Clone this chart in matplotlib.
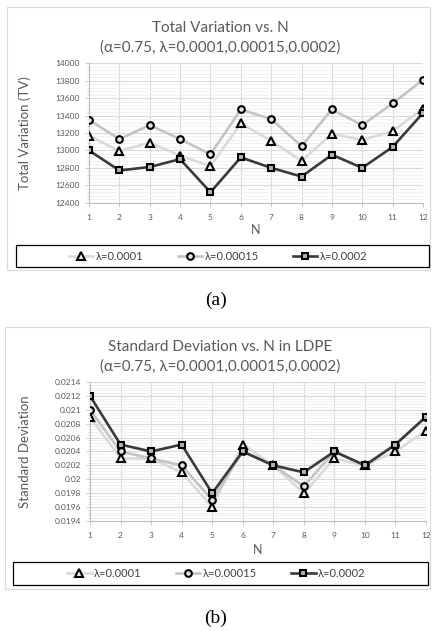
import numpy as np
import matplotlib
matplotlib.use("Agg")
import matplotlib.pyplot as plt
from matplotlib.lines import Line2D
from matplotlib.patches import Rectangle
from matplotlib.ticker import MultipleLocator

plt.rcParams['font.family'] = ['Lato', 'DejaVu Sans']

N = np.arange(1, 13)

# total variation, panel (a)
tv_1 = [13170, 12990, 13090, 12940, 12820, 13310, 13110, 12880, 13190, 13120, 13220, 13480]
tv_15 = [13350, 13130, 13290, 13130, 12955, 13470, 13360, 13050, 13470, 13290, 13540, 13810]
tv_2 = [13000, 12770, 12810, 12900, 12520, 12920, 12800, 12700, 12950, 12800, 13040, 13430]

# standard deviation, panel (b)
sd_1 = [0.0209, 0.0203, 0.0203, 0.0201, 0.0196, 0.0205, 0.0202, 0.0198, 0.0203, 0.0202, 0.0204, 0.0207]
sd_15 = [0.0210, 0.0204, 0.0203, 0.0202, 0.0197, 0.0204, 0.0202, 0.0199, 0.0204, 0.0202, 0.0205, 0.0209]
sd_2 = [0.0212, 0.0205, 0.0204, 0.0205, 0.0198, 0.0204, 0.0202, 0.0201, 0.0204, 0.0202, 0.0205, 0.0209]

labels = ['λ=0.0001', 'λ=0.00015', 'λ=0.0002']
line_cols = ['#dadada', '#c4c4c4', '#3a3a3a']
markers = ['^', 'o', 's']
face_cols = ['#f0f0f0', '#e4e4e4', '#b4b4b4']
msizes = [5.2, 4.8, 5.0]

W, H = 432, 631
fig = plt.figure(figsize=(W / 100, H / 100), dpi=100)
TXT = '#595959'


def px_rect(x0, y0, x1, y1):
    # pixel box (top-left origin) -> figure fraction rect
    return [x0 / W, 1 - y1 / H, (x1 - x0) / W, (y1 - y0) / H]


def style(lc, m, fc, ms):
    return dict(color=lc, lw=1.9, marker=m, markersize=ms, markerfacecolor=fc,
                markeredgecolor='black', markeredgewidth=1.5)


def panel(box, plot_box, title, ylabel, series, ylim, major, minor, fmt,
          title_y, xlab_y, leg_box, caption, cap_y):
    bx = px_rect(*box)
    fig.add_artist(Rectangle((bx[0], bx[1]), bx[2], bx[3], transform=fig.transFigure,
                             fill=False, edgecolor='#d9d9d9', lw=0.8))
    ax = fig.add_axes(px_rect(*plot_box))
    for ys, lc, m, fc, ms in zip(series, line_cols, markers, face_cols, msizes):
        ax.plot(N, ys, zorder=3, **style(lc, m, fc, ms))
    ax.set_xlim(1, 12)
    ax.set_ylim(*ylim)
    ax.set_xticks(N)
    ax.yaxis.set_major_locator(MultipleLocator(major))
    ax.yaxis.set_minor_locator(MultipleLocator(minor))
    ax.yaxis.set_major_formatter(fmt)
    ax.grid(which='major', axis='both', color='#d9d9d9', lw=0.8, zorder=0)
    ax.grid(which='minor', axis='y', color='#efefef', lw=0.6, zorder=0)
    ax.set_axisbelow(True)
    for s in ['top', 'right']:
        ax.spines[s].set_visible(False)
    for s in ['left', 'bottom']:
        ax.spines[s].set_color('#bfbfbf')
        ax.spines[s].set_linewidth(0.8)
    ax.tick_params(axis='both', which='major', labelsize=6, colors=TXT, length=3,
                   width=0.6, color='#bfbfbf')
    ax.tick_params(axis='y', which='minor', length=1.5, width=0.5, color='#bfbfbf')
    ax.tick_params(axis='x', pad=5)

    fig.text(25 / W, 1 - (plot_box[1] + plot_box[3]) / 2 / H, ylabel, rotation=90,
             ha='center', va='center', fontsize=9.5, color=TXT)
    fig.text(0.5 + 0.01, 1 - title_y / H, title, ha='center', va='center',
             fontsize=11, color=TXT, linespacing=1.45)
    fig.text((plot_box[0] + plot_box[2]) / 2 / W, 1 - xlab_y / H, 'N',
             ha='center', va='center', fontsize=9, color=TXT)

    lb = px_rect(*leg_box)
    fig.add_artist(Rectangle((lb[0], lb[1]), lb[2], lb[3], transform=fig.transFigure,
                             fill=False, edgecolor='black', lw=0.9))
    handles = [Line2D([], [], **style(lc, m, fc, ms))
               for lc, m, fc, ms in zip(line_cols, markers, face_cols, msizes)]
    leg = fig.legend(handles, labels, loc='center',
                     bbox_to_anchor=(lb[0] + lb[2] / 2 - 0.01, lb[1] + lb[3] / 2),
                     ncol=3, frameon=False, fontsize=8, handlelength=2.2,
                     handletextpad=0.2, columnspacing=3.1)
    for t in leg.get_texts():
        t.set_color('#404040')
    fig.text(0.5, 1 - cap_y / H, caption, ha='center', va='center',
             fontsize=14, family='Liberation Serif', color='black')
    return ax


panel((7, 7, 430, 270), (89, 63.3, 423, 202.7),
      'Total Variation vs. N\n(α=0.75, λ=0.0001,0.00015,0.0002)',
      'Total Variation (TV)', [tv_1, tv_15, tv_2], (12400, 14000), 200, 40,
      lambda v, p: f'{v:.0f}', 38, 230, (15.5, 245, 429, 267), '(a)', 300)

panel((5, 327, 430, 589), (90, 382, 426, 521),
      'Standard Deviation vs. N in LDPE\n(α=0.75, λ=0.0001,0.00015,0.0002)',
      'Standard Deviation', [sd_1, sd_15, sd_2], (0.0194, 0.0214), 0.0002, 0.00004,
      lambda v, p: f'{v:.4f}'.rstrip('0'), 357, 550, (13, 562, 428, 585), '(b)', 618)

fig.savefig('out.png', dpi=100)
